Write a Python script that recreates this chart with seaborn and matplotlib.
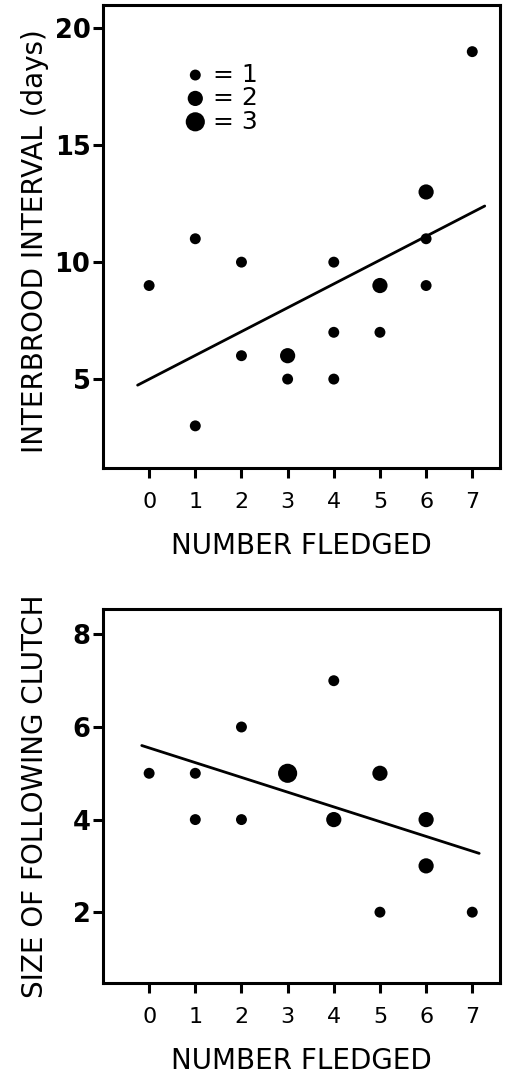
import matplotlib
matplotlib.use("Agg")
import matplotlib.pyplot as plt
import seaborn as sns
import pandas as pd

# ---- data: top panel (interbrood interval) ----
top_x = [0, 1, 1, 2, 2, 3, 3, 4, 4, 4, 5, 5, 6, 6, 6, 7]
top_y = [9, 11, 3, 10, 6, 6, 5, 10, 7, 5, 9, 7, 13, 11, 9, 19]
top_n = [1, 1, 1, 1, 1, 2, 1, 1, 1, 1, 2, 1, 2, 1, 1, 1]
top_line_x = [-0.25, 7.27]
top_line_y = [4.74, 12.4]

# ---- data: bottom panel (size of following clutch) ----
bot_x = [0, 1, 1, 2, 2, 3, 4, 4, 5, 5, 6, 6, 7]
bot_y = [5, 5, 4, 6, 4, 5, 7, 4, 5, 2, 4, 3, 2]
bot_n = [1, 1, 1, 1, 1, 3, 1, 2, 2, 1, 2, 2, 1]
bot_line_x = [-0.16, 7.15]
bot_line_y = [5.6, 3.27]

# legend entries
leg_n = [1, 2, 3]
leg_y = [18, 17, 16]
leg_x = [1, 1, 1]

x_ticks = [0, 1, 2, 3, 4, 5, 6, 7]
x_ticklabels = ["0", "1", "2", "3", "4", "5", "6", "7"]
top_yticks = [5, 10, 15, 20]
bot_yticks = [2, 4, 6, 8]

xlabel = "NUMBER FLEDGED"
top_ylabel = "INTERBROOD INTERVAL (days)"
bot_ylabel = "SIZE OF FOLLOWING CLUTCH"

sns.set_theme(style="ticks")
plt.rcParams['font.family'] = ['DejaVu Sans']

size_map = {1: 62, 2: 120, 3: 190}

fig = plt.figure(figsize=(5.27, 10.82), dpi=100)
ax1 = fig.add_axes([0.1954, 0.5675, 0.7533, 0.428])
ax2 = fig.add_axes([0.1954, 0.0915, 0.7533, 0.3457])

df_top = pd.DataFrame({"x": top_x, "y": top_y, "n": top_n})
df_bot = pd.DataFrame({"x": bot_x, "y": bot_y, "n": bot_n})
df_leg = pd.DataFrame({"x": leg_x, "y": leg_y, "n": leg_n})

sns.scatterplot(data=df_top, x="x", y="y", size="n", sizes=size_map,
                color="black", edgecolor="none", legend=False, ax=ax1, zorder=3)
sns.scatterplot(data=df_leg, x="x", y="y", size="n", sizes=size_map,
                color="black", edgecolor="none", legend=False, ax=ax1, zorder=3)
for yy, nn in zip(leg_y, leg_n):
    ax1.text(1.38, yy, f"= {nn}", fontsize=18,
             va="center", ha="left", color="black")
sns.lineplot(x=top_line_x, y=top_line_y, color="black", linewidth=2.0, ax=ax1)

sns.scatterplot(data=df_bot, x="x", y="y", size="n", sizes=size_map,
                color="black", edgecolor="none", legend=False, ax=ax2, zorder=3)
sns.lineplot(x=bot_line_x, y=bot_line_y, color="black", linewidth=2.0, ax=ax2)

ax1.set_xlim(-1.0, 7.6)
ax1.set_ylim(1.2, 21.0)
ax2.set_xlim(-1.0, 7.6)
ax2.set_ylim(0.47, 8.55)

for ax, yt, yl, ly in [(ax1, top_yticks, top_ylabel, 0.49),
                       (ax2, bot_yticks, bot_ylabel, 0.50)]:
    ax.set_xticks(x_ticks)
    ax.set_xticklabels(x_ticklabels)
    ax.set_yticks(yt)
    ax.set_yticklabels([str(v) for v in yt])
    for s in ax.spines.values():
        s.set_linewidth(2.2)
        s.set_color("black")
    ax.tick_params(axis="both", direction="out", length=7, width=2.2,
                   colors="black")
    ax.tick_params(axis="x", labelsize=16, pad=10)
    ax.tick_params(axis="y", labelsize=18.5, pad=2)
    for lab in ax.get_yticklabels():
        lab.set_fontweight("bold")
    ax.set_xlabel(xlabel, fontsize=20, labelpad=15, color="black")
    ax.set_ylabel(yl, fontsize=20, color="black", va="center")
    ax.yaxis.set_label_coords(-0.17, ly)

fig.savefig("out.png", dpi=100, facecolor="white")
